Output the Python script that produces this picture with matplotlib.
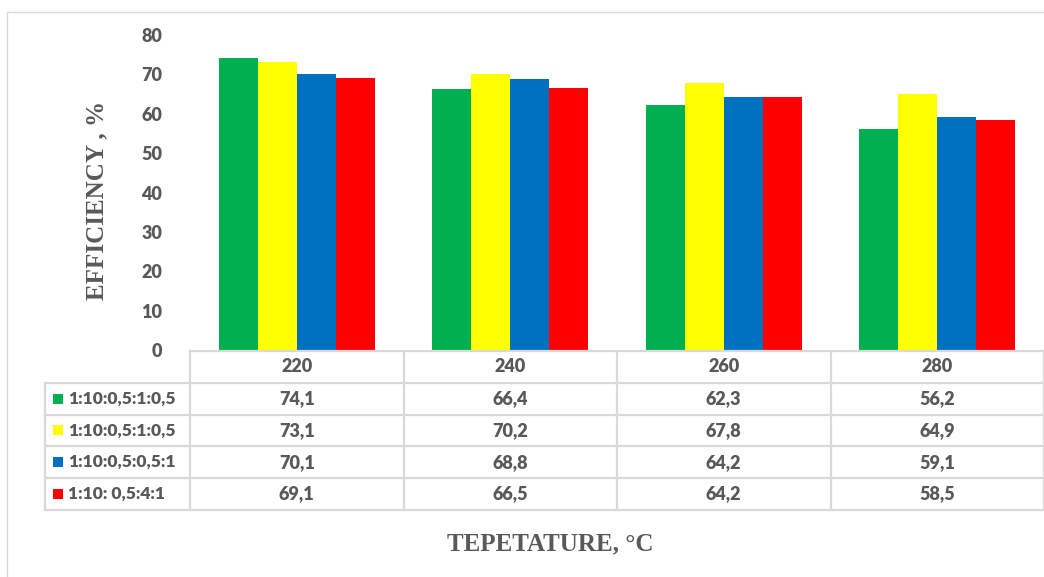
import matplotlib
matplotlib.use("Agg")
import matplotlib.pyplot as plt
from matplotlib.transforms import blended_transform_factory
from matplotlib.lines import Line2D
from matplotlib.patches import Rectangle
import numpy as np

# Temperatures (°C) and efficiency (%) for each mixture ratio
temperatures = ["220", "240", "260", "280"]
series_labels = ["1:10:0,5:1:0,5", "1:10:0,5:1:0,5", "1:10:0,5:0,5:1", "1:10: 0,5:4:1"]
series_values = [
    [74.1, 66.4, 62.3, 56.2],
    [73.1, 70.2, 67.8, 64.9],
    [70.1, 68.8, 64.2, 59.1],
    [69.1, 66.5, 64.2, 58.5],
]
series_colors = ["#00B050", "#FFFF00", "#0070C0", "#FF0000"]
y_ticks = [0, 10, 20, 30, 40, 50, 60, 70, 80]

TEXT = "#595959"
GRID = "#D9D9D9"
W, H = 1044, 577

fig = plt.figure(figsize=(W / 100, H / 100), dpi=100)
fig.patch.set_facecolor("white")

# outer chart frame
fig.patches.append(Rectangle((7 / W, -0.05), 1.1, (H - 12) / H + 0.05,
                             transform=fig.transFigure, fill=False,
                             edgecolor=GRID, linewidth=1.0))

ax = fig.add_axes([190 / W, (H - 350) / H, 854 / W, 315 / H])
n = len(temperatures)
x = np.arange(n)
bar_w = 0.183
for i, (vals, col) in enumerate(zip(series_values, series_colors)):
    ax.bar(x + (i - 1.5) * bar_w, vals, width=bar_w, color=col, linewidth=0, zorder=2)

ax.set_xlim(-0.5, n - 0.5)
ax.set_ylim(0, 80)
ax.set_yticks(y_ticks)
ax.set_yticklabels([str(t) for t in y_ticks], fontsize=13, fontweight="heavy",
                   color=TEXT, family="Lato")
ax.tick_params(axis="y", length=0, pad=20)
ax.set_xticks([])
for s in ax.spines.values():
    s.set_visible(False)

# data table below the plot
tr = blended_transform_factory(ax.transData, ax.transAxes)
row_h = 0.1009
top = -0.003
legend_left = -1.18
rows_y = [top - k * row_h for k in range(6)]
kw = dict(transform=tr, color=GRID, linewidth=1.6, clip_on=False, zorder=3)

# horizontal rules
ax.add_line(Line2D([-0.5, n - 0.5 + 0.1], [rows_y[0], rows_y[0]], **kw))
for yv in rows_y[1:]:
    ax.add_line(Line2D([legend_left, n - 0.5 + 0.1], [yv, yv], **kw))
# vertical rules
for xv in np.arange(n + 1) - 0.5:
    ax.add_line(Line2D([xv, xv], [rows_y[0], rows_y[-1]], **kw))
ax.add_line(Line2D([legend_left, legend_left], [rows_y[1], rows_y[-1]], **kw))

cell_font = dict(fontsize=13, fontweight="heavy", color=TEXT, family="Lato")
legend_font = dict(cell_font, fontsize=12.5)
for j, t in enumerate(temperatures):
    ax.text(j, (rows_y[0] + rows_y[1]) / 2, t, transform=tr, ha="center",
            va="center", **cell_font)
for i, (lab, vals, col) in enumerate(zip(series_labels, series_values, series_colors)):
    yc = (rows_y[i + 1] + rows_y[i + 2]) / 2
    for j, v in enumerate(vals):
        ax.text(j, yc, f"{v:.1f}".replace(".", ","), transform=tr, ha="center",
                va="center", **cell_font)
    # legend key
    ax.add_patch(Rectangle((legend_left + 0.037, yc - 0.016), 0.047, 0.032,
                           transform=tr, facecolor=col, edgecolor="none",
                           clip_on=False))
    ax.text(legend_left + 0.108, yc, lab, transform=tr, ha="left", va="center",
            **legend_font)

# axis titles
title_font = dict(family="Liberation Serif", fontweight="bold", color=TEXT, fontsize=18)
fig.text(97 / W, 1 - 200 / H, "EFFICIENCY , %", rotation=90, ha="center",
         va="center", **title_font)
fig.text(550 / W, 1 - 544 / H, "TEPETATURE, \u00b0C", ha="center", va="center",
         **title_font)

fig.savefig("out.png", dpi=100)
